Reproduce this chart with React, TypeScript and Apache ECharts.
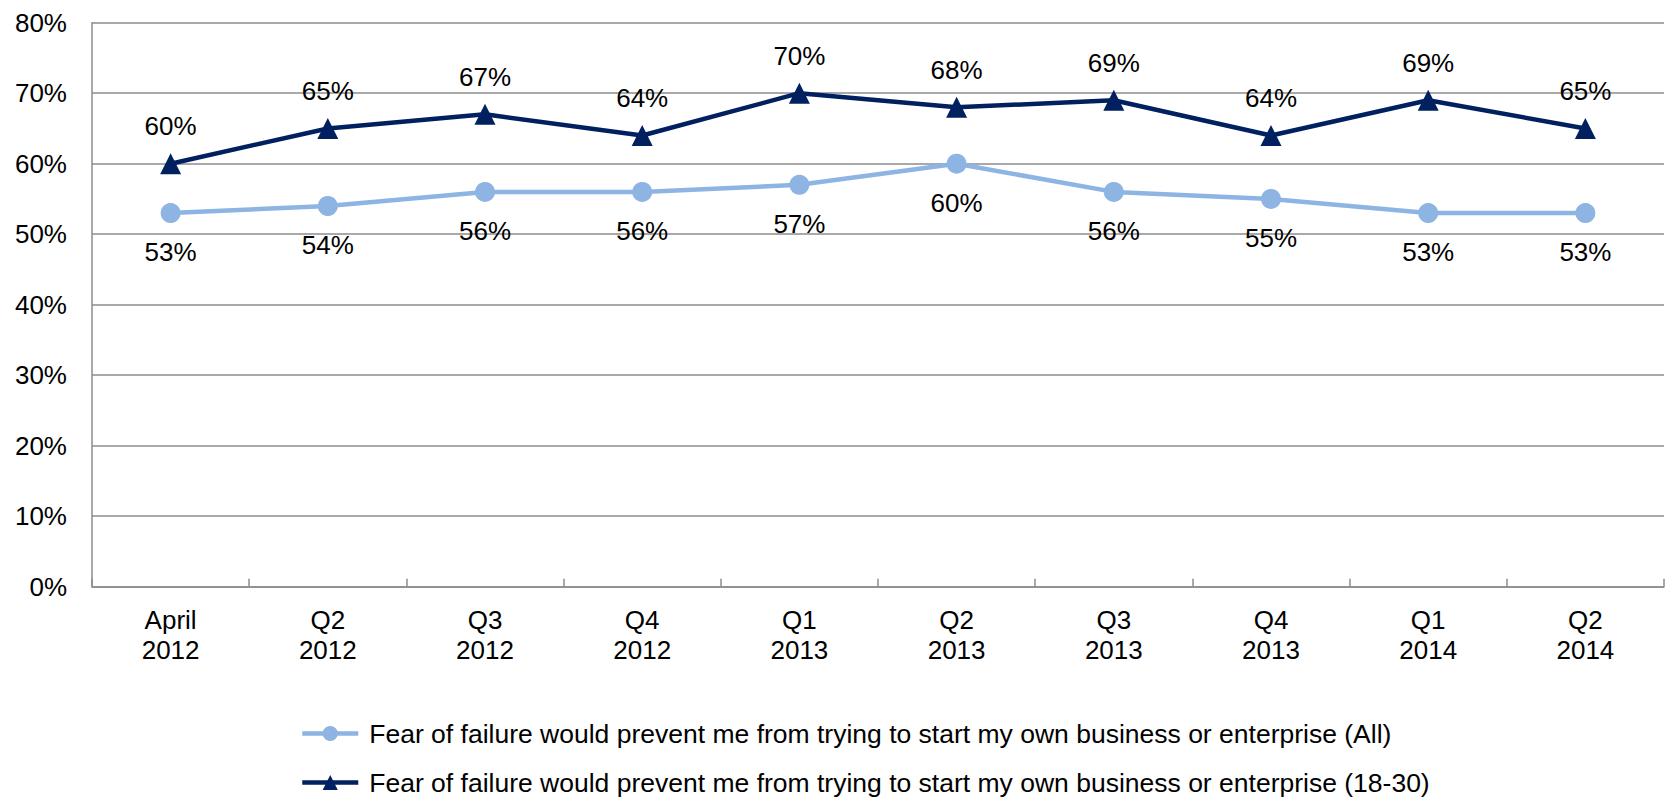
import React, { useEffect, useRef } from "react";
import * as echarts from "echarts";

const categories = [
  "April\n2012", "Q2\n2012", "Q3\n2012", "Q4\n2012", "Q1\n2013",
  "Q2\n2013", "Q3\n2013", "Q4\n2013", "Q1\n2014", "Q2\n2014",
];
const seriesAllName =
  "Fear of failure would prevent me from trying to start my own business or enterprise (All)";
const seriesYouthName =
  "Fear of failure would prevent me from trying to start my own business or enterprise (18-30)";
const seriesAll = [53, 54, 56, 56, 57, 60, 56, 55, 53, 53];
const seriesYouth = [60, 65, 67, 64, 70, 68, 69, 64, 69, 65];
const yMin = 0;
const yMax = 80;
const yInterval = 10;

const FONT = "'Liberation Sans', Arial, sans-serif";
const LIGHT = "#8DB4E2";
const DARK = "#002060";
const GRID = "#8c8c8c";

const legendBase = {
  orient: "horizontal",
  left: 295,
  itemWidth: 56,
  itemHeight: 19,
  lineStyle: { width: 4.5 },
  textStyle: { fontSize: 26.5, lineHeight: 27, color: "#000", fontFamily: FONT, padding: [0, 0, 0, 6] },
};

export default function App() {
  const ref = useRef<HTMLDivElement>(null);
  useEffect(() => {
    if (!ref.current) return;
    const chart = echarts.init(ref.current, undefined, { renderer: "svg" });
    chart.setOption({
      animation: false,
      backgroundColor: "#ffffff",
      textStyle: { fontFamily: FONT },
      grid: { left: 92, right: 3, top: 22.7, bottom: 210.3, containLabel: false },
      legend: [
        { ...legendBase, top: 715, data: [seriesAllName] },
        { ...legendBase, top: 764, data: [seriesYouthName] },
      ],
      xAxis: {
        type: "category",
        data: categories,
        boundaryGap: true,
        axisLine: { lineStyle: { color: GRID, width: 1.5 } },
        axisTick: { show: true, inside: true, length: 8, lineStyle: { color: GRID, width: 1.5 } },
        axisLabel: { color: "#000", fontSize: 26, fontFamily: FONT, lineHeight: 30, margin: 18 },
        splitLine: { show: false },
      },
      yAxis: {
        type: "value",
        min: yMin,
        max: yMax,
        interval: yInterval,
        axisLine: { show: true, lineStyle: { color: GRID, width: 1.5 } },
        axisTick: { show: false },
        axisLabel: { color: "#000", fontSize: 26, fontFamily: FONT, margin: 25, formatter: "{value}%" },
        splitLine: { show: true, lineStyle: { color: GRID, width: 1.5 } },
      },
      series: [
        {
          name: seriesAllName,
          type: "line",
          data: seriesAll,
          symbol: "circle",
          symbolSize: 20,
          lineStyle: { color: LIGHT, width: 4.5 },
          itemStyle: { color: LIGHT },
          label: {
            show: true,
            position: "bottom",
            distance: 16,
            formatter: "{c}%",
            color: "#000",
            fontSize: 26,
            fontFamily: FONT,
          },
          z: 2,
        },
        {
          name: seriesYouthName,
          type: "line",
          data: seriesYouth,
          symbol: "triangle",
          symbolSize: 21,
          lineStyle: { color: DARK, width: 4.5 },
          itemStyle: { color: DARK },
          label: {
            show: true,
            position: "top",
            distance: 14,
            formatter: "{c}%",
            color: "#000",
            fontSize: 26,
            fontFamily: FONT,
          },
          z: 3,
        },
      ],
    });
    return () => chart.dispose();
  }, []);
  return (
    <div
      ref={ref}
      style={{ position: "fixed", left: 0, top: 0, width: 1667, height: 797, background: "#fff" }}
    />
  );
}
